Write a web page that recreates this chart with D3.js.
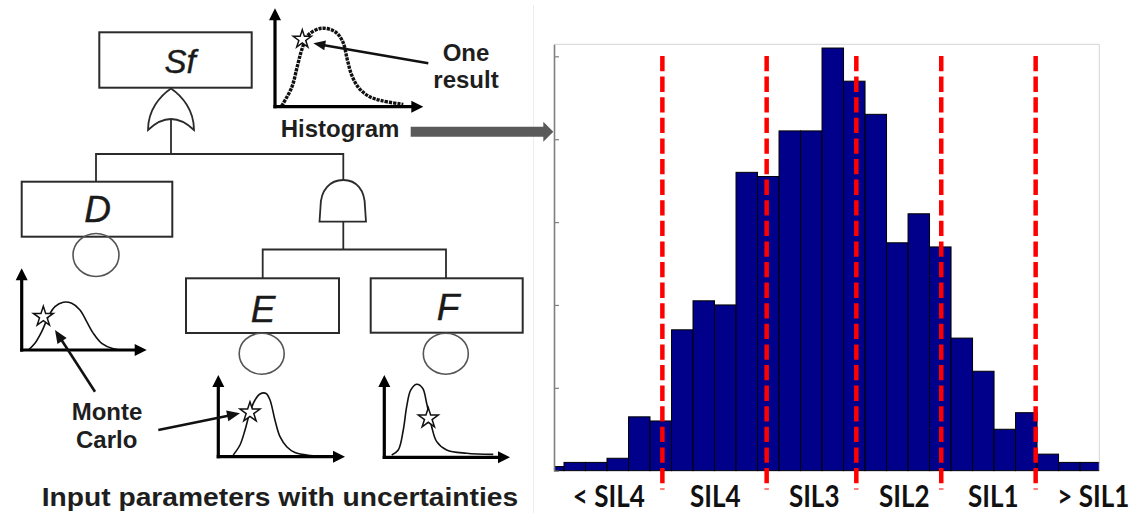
<!DOCTYPE html>
<html>
<head>
<meta charset="utf-8">
<script src="https://cdn.jsdelivr.net/npm/d3@7"></script>
<style>
  body { margin: 0; background: #fff; }
  svg { display: block; }
</style>
</head>
<body>
<div id="chart"></div>
<script>
// ---------------------------------------------------------------
// Data
// ---------------------------------------------------------------
// histogram counts, one per bin (bin width 1, first bin half hidden by the axis)
var binCounts = [1, 2, 2, 3, 13, 12, 34, 41, 40, 72, 71, 82, 82, 102, 94, 86, 55, 62, 54, 32, 24, 10, 14, 4, 2, 2];
var binStart = -0.535;
var countTicks = [0, 20, 40, 60, 80, 100];

// SIL band limits and band names (x in bin units)
var silLimits = [5.04, 9.89, 14.06, 18.01, 22.40];
var silNames = ["< SIL4", "SIL4", "SIL3", "SIL2", "SIL1", "> SIL1"];
var silNameAt = [2.55, 7.50, 12.10, 16.29, 20.43, 25.08];

// fault tree events
var events = ["Sf", "D", "E", "F"];

// sketched distributions: [share of x axis, share of y axis]
var curveHist = [[.045, .007], [.113, .197], [.150, .407], [.180, .576], [.225, .729], [.315, .797],
  [.405, .762], [.457, .661], [.488, .475], [.517, .322], [.562, .197], [.629, .109], [.719, .061], [.865, .024]];
var curveD = [[.053, 0], [.106, .082], [.16, .224], [.213, .408], [.266, .53], [.333, .584], [.4, .571],
  [.466, .49], [.52, .347], [.573, .204], [.64, .082], [.733, .016], [.84, 0]];
var curveE = [[.118, .021], [.171, .143], [.211, .327], [.25, .547], [.29, .694], [.329, .768], [.377, .774],
  [.408, .694], [.447, .45], [.487, .245], [.542, .119], [.605, .051], [.723, .015], [.881, .002]];
var curveF = [[.059, .028], [.111, .089], [.151, .332], [.178, .615], [.21, .816], [.257, .887], [.305, .839],
  [.337, .656], [.377, .372], [.417, .19], [.496, .089], [.655, .049], [.867, .036]];
// sampled point (the star) on each distribution
var starHist = [.184, .685];
var starD = [.173, .408];
var starE = [.25, .543];
var starF = [.35, .474];

// ---------------------------------------------------------------
var svgWidth = 1130;
var svgHeight = 513;

var svg = d3.select("#chart")
  .append("svg")
  .attr("width", svgWidth)
  .attr("height", svgHeight);

// thin separator between the two pictures
svg.append("line")
  .attr("x1", 533.5).attr("x2", 533.5)
  .attr("y1", 5).attr("y2", svgHeight)
  .attr("stroke", "#ececec").attr("stroke-width", 1);

// line + filled triangular head
function arrow(g, x1, y1, x2, y2, sw, hl, hw, col) {
  var dx = x2 - x1, dy = y2 - y1;
  var len = Math.hypot(dx, dy), ux = dx / len, uy = dy / len;
  var bx = x2 - ux * hl, by = y2 - uy * hl;
  g.append("line")
    .attr("x1", x1).attr("y1", y1)
    .attr("x2", bx + ux).attr("y2", by + uy)
    .attr("stroke", col).attr("stroke-width", sw);
  g.append("path")
    .attr("d", `M${x2},${y2}L${bx - uy * hw / 2},${by + ux * hw / 2}L${bx + uy * hw / 2},${by - ux * hw / 2}Z`)
    .attr("fill", col);
}

// =================== Left: fault tree ===================
var tree = svg.append("g");
var ink = "#2b2b2b";

var boxes = [
  {x: 99.3, y: 32.3, w: 152.4, h: 55.4, tx: 180, ty: 72.7, fs: 33},
  {x: 21.7, y: 181.7, w: 150.6, h: 55, tx: 97.5, ty: 221.7, fs: 37},
  {x: 186, y: 278.3, w: 153, h: 54.7, tx: 263, ty: 321.7, fs: 37},
  {x: 370.7, y: 278.3, w: 152, h: 54.4, tx: 448, ty: 320, fs: 37}
];

tree.selectAll("rect.box")
  .data(boxes)
  .join("rect")
  .attr("class", "box")
  .attr("x", d => d.x).attr("y", d => d.y)
  .attr("width", d => d.w).attr("height", d => d.h)
  .attr("fill", "#fff")
  .attr("stroke", ink).attr("stroke-width", 2);

tree.selectAll("text.event")
  .data(boxes)
  .join("text")
  .attr("class", "event")
  .attr("x", d => d.tx).attr("y", d => d.ty)
  .attr("text-anchor", "middle")
  .attr("font-family", "'Liberation Sans', Arial, sans-serif")
  .attr("font-style", "italic")
  .attr("font-size", d => d.fs + "px")
  .attr("fill", "#1a1a1a")
  .attr("stroke", "#1a1a1a").attr("stroke-width", 0.4)
  .text((d, i) => events[i]);

// connectors
var links = [
  [[171, 120], [171, 154]],
  [[96, 181.7], [96, 154], [343.3, 154], [343.3, 180]],
  [[343.3, 221.7], [343.3, 249.5]],
  [[262.7, 278.3], [262.7, 249.5], [446, 249.5], [446, 278.3]]
];
tree.selectAll("path.link")
  .data(links)
  .join("path")
  .attr("class", "link")
  .attr("d", d3.line())
  .attr("fill", "none")
  .attr("stroke", ink).attr("stroke-width", 1.8);

// OR gate
tree.append("path")
  .attr("d", "M171,88.5 C160,96 148,110 148,130 Q171,108 194,130 C194,110 182,96 171,88.5Z")
  .attr("fill", "#fff").attr("stroke", ink).attr("stroke-width", 1.8);

// AND gate
tree.append("path")
  .attr("d", "M319.5,221.7 L320.5,207 C320.5,190 330,180 343.3,180 C356.5,180 365,190 365,207 L366,221.7 Z")
  .attr("fill", "#fff").attr("stroke", ink).attr("stroke-width", 1.8);

// basic event circles
var basics = [
  {cx: 96, cy: 255, rx: 23, ry: 21.5},
  {cx: 261.7, cy: 353.7, rx: 22.5, ry: 20.5},
  {cx: 445.8, cy: 353.7, rx: 22.5, ry: 20.5}
];
tree.selectAll("ellipse")
  .data(basics)
  .join("ellipse")
  .attr("cx", d => d.cx).attr("cy", d => d.cy)
  .attr("rx", d => d.rx).attr("ry", d => d.ry)
  .attr("fill", "none")
  .attr("stroke", "#555").attr("stroke-width", 1.6);

// =================== small distribution plots ===================
var minis = [
  {ox: 275, oy: 106.7, w: 148.3, h: 98.4, curve: curveHist, star: starHist, r: 9.5, dotted: true},
  {ox: 21.7, oy: 350, w: 125, h: 81.7, curve: curveD, star: starD, r: 10.5},
  {ox: 218.3, oy: 456.7, w: 126.7, h: 81.7, curve: curveE, star: starE, r: 10.5},
  {ox: 384.3, oy: 457.3, w: 125.7, h: 82.3, curve: curveF, star: starF, r: 10.5}
];

minis.forEach(m => {
  var g = svg.append("g");
  var px = d3.scaleLinear().domain([0, 1]).range([m.ox, m.ox + m.w]);
  var py = d3.scaleLinear().domain([0, 1]).range([m.oy, m.oy - m.h]);

  var line = d3.line()
    .x(d => px(d[0]))
    .y(d => py(d[1]))
    .curve(d3.curveCatmullRom.alpha(0.5));

  g.append("path")
    .datum(m.curve)
    .attr("d", line)
    .attr("fill", "none")
    .attr("stroke", "#111")
    .attr("stroke-width", m.dotted ? 3.4 : 1.6)
    .attr("stroke-dasharray", m.dotted ? "3.2,1" : null);

  arrow(g, px(0), py(0) + 1.6, px(0), py(1), 3.2, 12, 12, "#000");
  arrow(g, px(0) - 1.6, py(0), px(1), py(0), 3.2, 12, 12, "#000");

  g.append("path")
    .attr("d", d3.symbol(d3.symbolStar, m.r * m.r / 0.8908)())
    .attr("transform", `translate(${px(m.star[0])},${py(m.star[1])})`)
    .attr("fill", "#fff")
    .attr("stroke", "#111").attr("stroke-width", 1.5);
});

// annotations
var notes = svg.append("g");
arrow(notes, 428.3, 63.3, 313.3, 43.3, 2.6, 12, 10, "#111");
arrow(notes, 95, 391.7, 55, 330, 2.6, 13, 11, "#111");
arrow(notes, 158.3, 430, 240, 413.3, 2.6, 13, 11, "#111");
arrow(notes, 410.7, 131.7, 553.3, 131.7, 10, 10, 20, "#5a5a5a");

var boldFont = "'Liberation Sans', Arial, sans-serif";
var labels = [
  {t: "One", x: 466, y: 60.7, a: "middle"},
  {t: "result", x: 466, y: 88.3, a: "middle"},
  {t: "Histogram", x: 280.7, y: 137.3, a: "start"},
  {t: "Monte", x: 107, y: 420, a: "middle"},
  {t: "Carlo", x: 106.7, y: 448.3, a: "middle"}
];
notes.selectAll("text")
  .data(labels)
  .join("text")
  .attr("x", d => d.x).attr("y", d => d.y)
  .attr("text-anchor", d => d.a)
  .attr("font-family", boldFont)
  .attr("font-weight", "bold")
  .attr("font-size", "24px")
  .attr("fill", "#1e1e1e")
  .text(d => d.t);

svg.append("text")
  .attr("x", 41.7).attr("y", 506)
  .attr("font-family", boldFont)
  .attr("font-weight", "bold")
  .attr("font-size", "26px")
  .attr("textLength", 476.5)
  .attr("lengthAdjust", "spacingAndGlyphs")
  .attr("fill", "#1e1e1e")
  .text("Input parameters with uncertainties");

// =================== Right: histogram ===================
var x = d3.scaleLinear().domain([0, 25.36]).range([554, 1099.3]);
var y = d3.scaleLinear().domain([0, 102.9]).range([470.7, 44.3]);

svg.append("clipPath")
  .attr("id", "plotClip")
  .append("rect")
  .attr("x", x(0)).attr("y", y.range()[1])
  .attr("width", x.range()[1] - x(0))
  .attr("height", y(0) - y.range()[1] + 1);

var hist = svg.append("g");

hist.append("g")
  .attr("clip-path", "url(#plotClip)")
  .selectAll("rect")
  .data(binCounts)
  .join("rect")
  .attr("x", (d, i) => x(binStart + i))
  .attr("width", x(1) - x(0))
  .attr("y", d => y(d))
  .attr("height", d => y(0) - y(d))
  .attr("fill", "#00008b")
  .attr("stroke", "#000")
  .attr("stroke-width", 1);

// frame: light top and right edges
hist.append("path")
  .attr("d", `M${x(0)},${y.range()[1]}H${x.range()[1]}V${y(0)}`)
  .attr("fill", "none")
  .attr("stroke", "#d4d4d4").attr("stroke-width", 1);

var leftAxis = d3.axisLeft(y)
  .tickValues(countTicks)
  .tickSize(-5)
  .tickSizeOuter(0)
  .tickFormat("");
var yAxis = hist.append("g")
  .attr("transform", `translate(${x(0)},0)`)
  .call(leftAxis);
yAxis.select(".domain").attr("stroke", "#7f7f7f").attr("stroke-width", 1.6);
yAxis.selectAll(".tick line").attr("stroke", "#7f7f7f").attr("stroke-width", 1.2);

// SIL limits
hist.selectAll("line.sil")
  .data(silLimits)
  .join("line")
  .attr("class", "sil")
  .attr("x1", d => x(d)).attr("x2", d => x(d))
  .attr("y1", y(100) - 0.3).attr("y2", 489.5)
  .attr("stroke", "#ff0000")
  .attr("stroke-width", 4.5)
  .attr("stroke-dasharray", "15.3,5.3");

// band names
hist.selectAll("text.band")
  .data(silNames)
  .join("text")
  .attr("class", "band")
  .attr("transform", (d, i) => `translate(${x(silNameAt[i])},506.7) scale(0.84,1)`)
  .attr("text-anchor", "middle")
  .attr("font-family", "Lato, 'Open Sans', sans-serif")
  .attr("font-weight", "bold")
  .attr("font-size", "31px")
  .attr("fill", "#111")
  .text(d => d);
</script>
</body>
</html>
